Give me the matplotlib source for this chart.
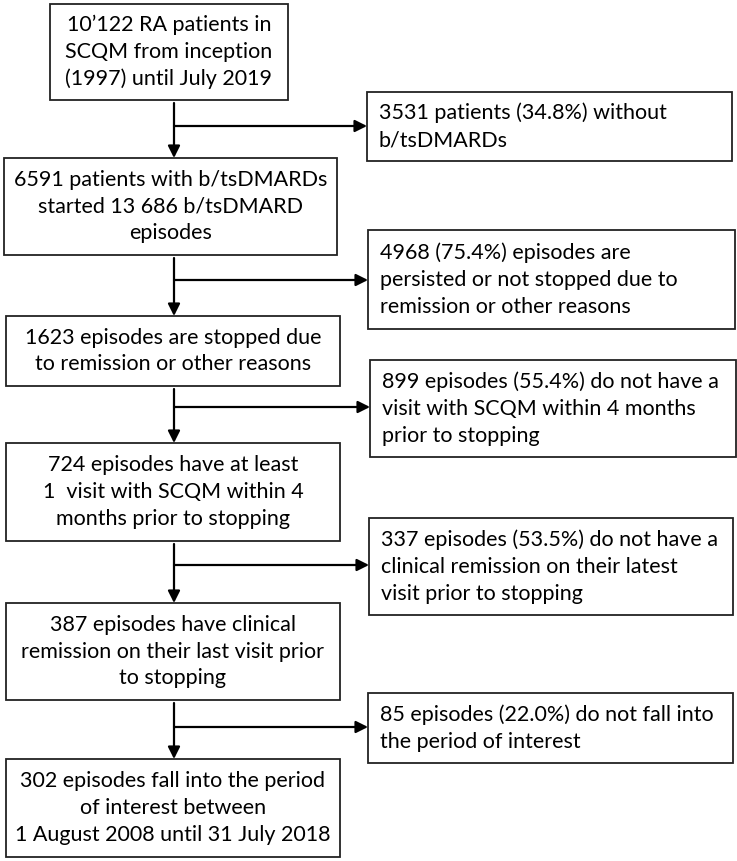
import matplotlib.pyplot as plt
from matplotlib.patches import Rectangle

plt.rcParams['font.family'] = ['Lato', 'DejaVu Sans']

# main flow boxes (left column)
main_text = [
    "10\u2019122 RA patients in\nSCQM from inception\n(1997) until July 2019",
    "6591 patients with b/tsDMARDs\nstarted 13 686 b/tsDMARD\nepisodes",
    "1623 episodes are stopped due\nto remission or other reasons",
    "724 episodes have at least\n1  visit with SCQM within 4\nmonths prior to stopping",
    "387 episodes have clinical\nremission on their last visit prior\nto stopping",
    "302 episodes fall into the period\nof interest between\n1 August 2008 until 31 July 2018",
]
# excluded boxes (right column)
excl_text = [
    "3531 patients (34.8%) without\nb/tsDMARDs",
    "4968 (75.4%) episodes are\npersisted or not stopped due to\nremission or other reasons",
    "899 episodes (55.4%) do not have a\nvisit with SCQM within 4 months\nprior to stopping",
    "337 episodes (53.5%) do not have a\nclinical remission on their latest\nvisit prior to stopping",
    "85 episodes (22.0%) do not fall into\nthe period of interest",
]

# layout in pixels (x0, x1, y0, y1)
main_boxes = [
    (50, 288, 4, 100),
    (4, 337, 158, 255),
    (6, 340, 316, 386),
    (6, 340, 443, 541),
    (6, 340, 603, 700),
    (6, 340, 759, 857),
]
excl_boxes = [
    (367, 732, 92, 161),
    (368, 735, 230, 329),
    (370, 736, 360, 457),
    (369, 733, 518, 615),
    (368, 733, 693, 763),
]
branch_y = [126, 280, 407, 565, 727]
xline = 174

fig = plt.figure(figsize=(7.37, 8.61), dpi=100)
ax = fig.add_axes([0, 0, 1, 1])
ax.set_xlim(0, 737)
ax.set_ylim(861, 0)
ax.axis("off")

fs = 15.5
for (x0, x1, y0, y1), t in zip(main_boxes, main_text):
    ax.add_patch(Rectangle((x0, y0), x1 - x0, y1 - y0, fill=False,
                           edgecolor="#222222", linewidth=1.3))
    ax.text((x0 + x1) / 2, (y0 + y1) / 2, t, ha="center", va="center",
            fontsize=fs, linespacing=1.42, multialignment="center")

for (x0, x1, y0, y1), t in zip(excl_boxes, excl_text):
    ax.add_patch(Rectangle((x0, y0), x1 - x0, y1 - y0, fill=False,
                           edgecolor="#222222", linewidth=1.3))
    ax.text(x0 + 12, (y0 + y1) / 2, t, ha="left", va="center",
            fontsize=fs, linespacing=1.42)

arrow = dict(arrowstyle="-|>,head_length=0.6,head_width=0.3", color="black",
             lw=1.6, mutation_scale=12, shrinkA=0, shrinkB=0)
for i, by in enumerate(branch_y):
    ytop = main_boxes[i][3] + 3
    ybot = main_boxes[i + 1][2]
    ax.annotate("", xy=(xline, ybot), xytext=(xline, ytop), arrowprops=arrow)
    ax.annotate("", xy=(excl_boxes[i][0], by), xytext=(xline, by),
                arrowprops=arrow)

fig.savefig("out.png", dpi=100)
